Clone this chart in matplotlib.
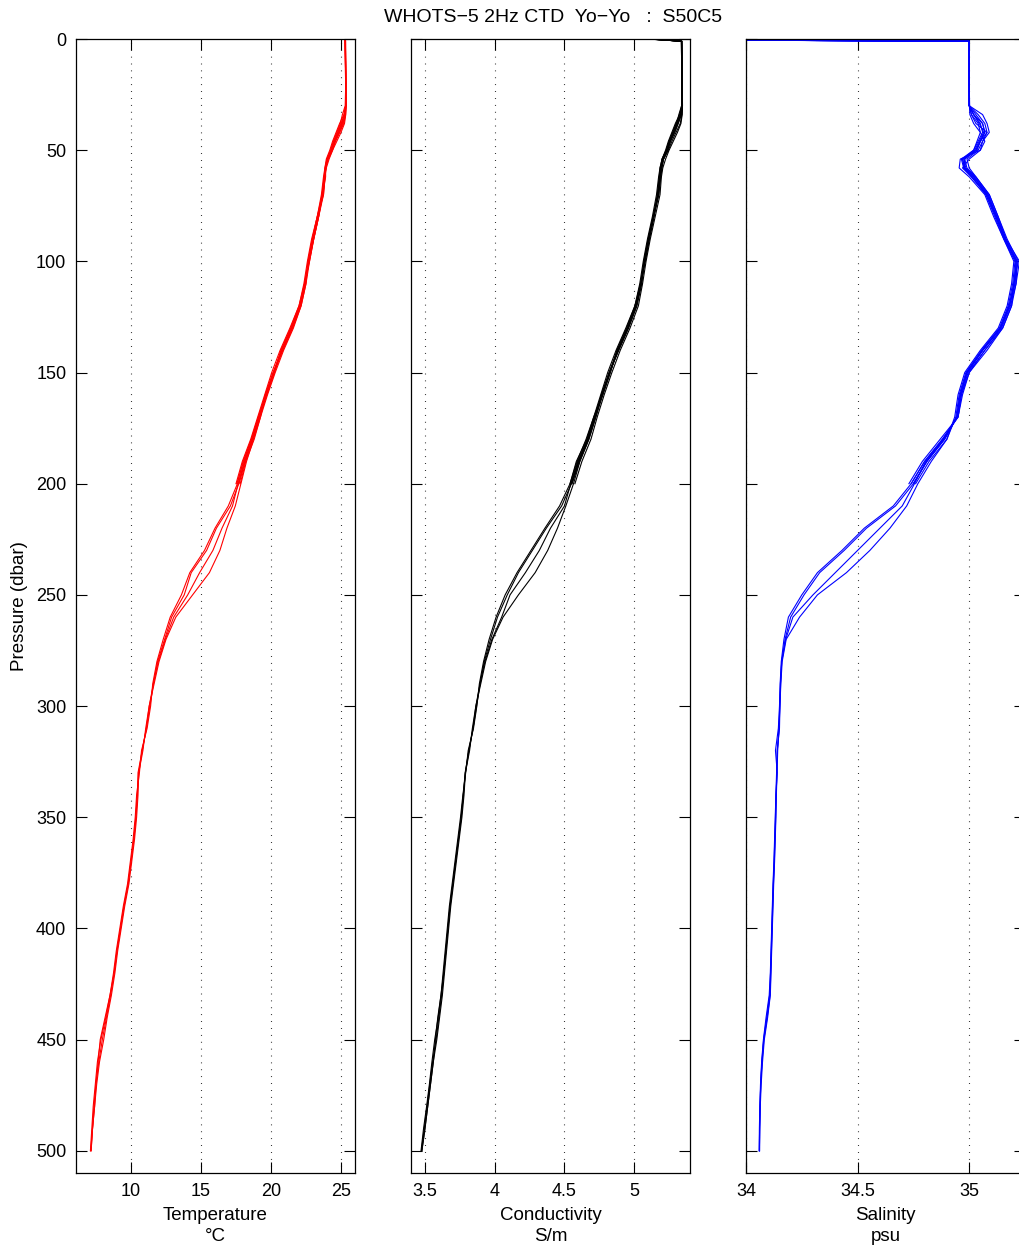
import matplotlib
matplotlib.use("Agg")
import matplotlib.pyplot as plt

plt.rcParams['font.family'] = ['Liberation Sans', 'DejaVu Sans']

# pressure grids (dbar): shallow yo-yo casts stop at 200, deep casts reach 500
P_SHALLOW = [0, 1, 10, 20, 30, 34, 38, 42, 46, 50, 54, 58, 62, 70, 80, 90, 100,
             110, 120, 130, 140, 150, 160, 170, 180, 190, 200]
P_DEEP = [0, 1, 10, 20, 30, 34, 38, 42, 46, 50, 54, 58, 62, 70, 80, 90, 100,
          110, 120, 130, 140, 150, 160, 170, 180, 190, 200,
          210, 220, 230, 240, 250, 260, 270, 280, 290, 300, 310, 320, 330, 340,
          350, 360, 370, 380, 390, 400, 410, 420, 430, 440, 450, 460, 470, 480,
          490, 500]

# temperature (deg C)
TEMP_DEEP = [
    [25.30, 25.30, 25.32, 25.34, 25.35, 25.30, 25.10, 24.85, 24.55, 24.35, 24.05, 23.90, 23.85, 23.70,
     23.35, 23.00, 22.70, 22.45, 22.10, 21.50, 20.80, 20.20, 19.65, 19.20, 18.70, 18.15, 17.70,
     17.10, 16.10, 15.40, 14.30, 13.80, 12.90, 12.40, 11.90, 11.60, 11.35, 11.10, 10.80, 10.55, 10.45,
     10.35, 10.20, 10.00, 9.80, 9.50, 9.25, 9.00, 8.80, 8.55, 8.25, 7.95, 7.70, 7.50, 7.35, 7.25, 7.12],
    [25.28, 25.29, 25.31, 25.33, 25.34, 25.25, 25.00, 24.75, 24.50, 24.30, 24.00, 23.95, 23.80, 23.65,
     23.40, 23.05, 22.75, 22.40, 22.00, 21.40, 20.70, 20.25, 19.70, 19.10, 18.60, 18.00, 17.60,
     16.95, 16.00, 15.25, 14.20, 13.60, 12.80, 12.30, 11.85, 11.55, 11.40, 11.15, 10.75, 10.60, 10.40,
     10.30, 10.15, 9.95, 9.75, 9.45, 9.20, 8.95, 8.75, 8.50, 8.20, 7.85, 7.60, 7.45, 7.30, 7.20, 7.10],
    [25.31, 25.31, 25.33, 25.35, 25.36, 25.32, 25.15, 24.90, 24.60, 24.40, 24.10, 23.90, 23.85, 23.75,
     23.30, 22.95, 22.65, 22.50, 22.15, 21.55, 20.85, 20.15, 19.60, 19.25, 18.75, 18.25, 17.85,
     17.45, 16.85, 16.35, 15.60, 14.40, 13.20, 12.50, 12.00, 11.65, 11.30, 11.05, 10.85, 10.55, 10.50,
     10.40, 10.25, 10.05, 9.85, 9.55, 9.30, 9.05, 8.85, 8.60, 8.30, 8.05, 7.75, 7.55, 7.40, 7.25, 7.15],
    [25.29, 25.30, 25.32, 25.34, 25.35, 25.28, 25.05, 24.80, 24.50, 24.30, 24.00, 23.85, 23.80, 23.70,
     23.40, 23.05, 22.70, 22.45, 22.05, 21.45, 20.75, 20.20, 19.60, 19.15, 18.65, 18.10, 17.65,
     17.25, 16.50, 15.85, 14.90, 14.05, 13.05, 12.45, 11.95, 11.60, 11.30, 11.10, 10.80, 10.50, 10.45,
     10.35, 10.20, 10.00, 9.80, 9.50, 9.25, 9.00, 8.80, 8.50, 8.15, 7.80, 7.65, 7.50, 7.40, 7.25, 7.15],
]
TEMP_SHALLOW = [
    [25.30, 25.31, 25.33, 25.34, 25.30, 25.10, 24.95, 24.70, 24.45, 24.25, 24.00, 23.90, 23.80, 23.65,
     23.30, 22.95, 22.65, 22.40, 22.05, 21.45, 20.75, 20.15, 19.60, 19.10, 18.60, 18.05, 17.55],
    [25.32, 25.33, 25.34, 25.35, 25.36, 25.34, 25.25, 25.00, 24.70, 24.40, 24.15, 23.95, 23.85, 23.75,
     23.40, 23.05, 22.75, 22.50, 22.15, 21.60, 20.90, 20.30, 19.75, 19.25, 18.80, 18.20, 17.80],
    [25.29, 25.30, 25.31, 25.33, 25.33, 25.20, 24.90, 24.65, 24.40, 24.20, 23.95, 23.85, 23.75, 23.60,
     23.30, 22.90, 22.60, 22.35, 22.00, 21.35, 20.65, 20.05, 19.55, 19.05, 18.55, 17.95, 17.50],
    [25.31, 25.32, 25.33, 25.35, 25.35, 25.32, 25.20, 24.90, 24.60, 24.35, 24.05, 23.90, 23.90, 23.70,
     23.35, 23.00, 22.70, 22.45, 22.10, 21.50, 20.80, 20.20, 19.70, 19.20, 18.70, 18.15, 17.70],
    [25.30, 25.30, 25.32, 25.34, 25.35, 25.25, 25.05, 24.80, 24.55, 24.35, 24.05, 23.88, 23.82, 23.68,
     23.38, 23.02, 22.72, 22.42, 22.08, 21.52, 20.82, 20.22, 19.68, 19.18, 18.68, 18.12, 17.68],
]

# conductivity (S/m)
COND_DEEP = [
    [5.11, 5.34, 5.342, 5.343, 5.344, 5.335, 5.31, 5.285, 5.255, 5.235, 5.205, 5.19, 5.185, 5.17,
     5.14, 5.105, 5.075, 5.05, 5.015, 4.955, 4.885, 4.825, 4.77, 4.72, 4.67, 4.60, 4.55,
     4.48, 4.37, 4.27, 4.17, 4.09, 4.02, 3.97, 3.925, 3.895, 3.87, 3.845, 3.815, 3.79, 3.775,
     3.76, 3.74, 3.72, 3.70, 3.68, 3.665, 3.65, 3.635, 3.62, 3.60, 3.58, 3.555, 3.535, 3.515, 3.495, 3.475],
    [5.12, 5.338, 5.34, 5.342, 5.343, 5.33, 5.30, 5.275, 5.25, 5.23, 5.20, 5.195, 5.18, 5.165,
     5.14, 5.11, 5.08, 5.045, 5.005, 4.945, 4.875, 4.83, 4.775, 4.71, 4.66, 4.585, 4.54,
     4.465, 4.36, 4.26, 4.16, 4.075, 4.01, 3.96, 3.92, 3.89, 3.872, 3.848, 3.81, 3.792, 3.772,
     3.755, 3.735, 3.715, 3.695, 3.675, 3.66, 3.645, 3.63, 3.615, 3.595, 3.57, 3.55, 3.532, 3.512, 3.49, 3.472],
    [5.10, 5.341, 5.343, 5.345, 5.346, 5.34, 5.315, 5.29, 5.26, 5.24, 5.21, 5.19, 5.185, 5.175,
     5.135, 5.10, 5.07, 5.055, 5.02, 4.96, 4.89, 4.82, 4.765, 4.725, 4.675, 4.61, 4.565,
     4.51, 4.45, 4.38, 4.29, 4.17, 4.06, 3.985, 3.935, 3.90, 3.865, 3.84, 3.82, 3.79, 3.78,
     3.765, 3.745, 3.725, 3.705, 3.685, 3.67, 3.655, 3.64, 3.625, 3.605, 3.585, 3.56, 3.54, 3.52, 3.50, 3.478],
    [5.13, 5.339, 5.341, 5.343, 5.344, 5.333, 5.305, 5.28, 5.25, 5.23, 5.20, 5.185, 5.18, 5.17,
     5.14, 5.105, 5.075, 5.05, 5.01, 4.95, 4.88, 4.825, 4.765, 4.715, 4.665, 4.595, 4.545,
     4.50, 4.40, 4.32, 4.22, 4.11, 4.05, 3.98, 3.93, 3.895, 3.865, 3.845, 3.815, 3.788, 3.775,
     3.76, 3.74, 3.72, 3.70, 3.68, 3.665, 3.65, 3.635, 3.615, 3.592, 3.575, 3.56, 3.54, 3.52, 3.50, 3.478],
]
COND_SHALLOW = [
    [5.11, 5.34, 5.342, 5.343, 5.34, 5.32, 5.305, 5.28, 5.255, 5.235, 5.21, 5.20, 5.19, 5.175,
     5.14, 5.105, 5.075, 5.05, 5.015, 4.955, 4.885, 4.825, 4.77, 4.72, 4.67, 4.605, 4.55],
    [5.12, 5.342, 5.344, 5.345, 5.346, 5.344, 5.335, 5.31, 5.28, 5.25, 5.225, 5.205, 5.195, 5.185,
     5.15, 5.115, 5.085, 5.06, 5.03, 4.97, 4.90, 4.84, 4.785, 4.735, 4.69, 4.625, 4.575],
    [5.10, 5.338, 5.34, 5.341, 5.34, 5.325, 5.295, 5.27, 5.245, 5.225, 5.20, 5.185, 5.175, 5.16,
     5.13, 5.095, 5.065, 5.04, 5.005, 4.94, 4.87, 4.81, 4.76, 4.71, 4.655, 4.59, 4.54],
    [5.13, 5.341, 5.342, 5.344, 5.345, 5.342, 5.33, 5.30, 5.27, 5.245, 5.21, 5.195, 5.19, 5.175,
     5.14, 5.105, 5.075, 5.05, 5.015, 4.955, 4.885, 4.825, 4.775, 4.725, 4.675, 4.61, 4.555],
    [5.115, 5.34, 5.341, 5.343, 5.344, 5.335, 5.315, 5.29, 5.26, 5.24, 5.21, 5.19, 5.185, 5.17,
     5.135, 5.10, 5.07, 5.045, 5.01, 4.955, 4.88, 4.82, 4.77, 4.715, 4.665, 4.60, 4.55],
]

# salinity (psu)
SAL_DEEP = [
    [32.9, 35.0, 35.0, 35.0, 35.0, 35.02, 35.05, 35.06, 35.04, 35.02, 34.97, 34.98, 35.02, 35.08,
     35.12, 35.16, 35.21, 35.20, 35.18, 35.14, 35.06, 34.99, 34.96, 34.945, 34.89, 34.81, 34.75,
     34.67, 34.54, 34.44, 34.33, 34.26, 34.20, 34.175, 34.16, 34.155, 34.152, 34.15, 34.14, 34.138, 34.135,
     34.133, 34.13, 34.127, 34.123, 34.12, 34.117, 34.114, 34.111, 34.108, 34.095, 34.08, 34.072, 34.066,
     34.063, 34.061, 34.06],
    [32.8, 35.0, 35.0, 35.0, 35.0, 35.03, 35.06, 35.07, 35.05, 35.03, 34.98, 34.99, 35.03, 35.09,
     35.13, 35.165, 35.215, 35.21, 35.185, 35.145, 35.07, 35.0, 34.965, 34.95, 34.88, 34.80, 34.74,
     34.66, 34.53, 34.43, 34.32, 34.25, 34.19, 34.17, 34.158, 34.153, 34.15, 34.145, 34.132, 34.14, 34.134,
     34.131, 34.128, 34.125, 34.121, 34.118, 34.115, 34.112, 34.109, 34.104, 34.09, 34.078, 34.07, 34.065,
     34.062, 34.06, 34.059],
    [33.0, 35.0, 35.0, 35.0, 35.002, 35.01, 35.04, 35.05, 35.035, 35.02, 34.965, 34.975, 35.015, 35.075,
     35.115, 35.155, 35.205, 35.195, 35.175, 35.135, 35.055, 34.985, 34.955, 34.94, 34.90, 34.83, 34.77,
     34.72, 34.645, 34.555, 34.45, 34.32, 34.24, 34.18, 34.162, 34.156, 34.152, 34.148, 34.142, 34.139, 34.136,
     34.134, 34.131, 34.128, 34.124, 34.121, 34.118, 34.115, 34.112, 34.109, 34.097, 34.082, 34.074, 34.068,
     34.064, 34.062, 34.061],
    [32.85, 35.0, 35.0, 35.0, 35.0, 35.02, 35.045, 35.065, 35.045, 35.025, 34.975, 34.985, 35.025, 35.085,
     35.125, 35.16, 35.21, 35.205, 35.18, 35.14, 35.06, 34.99, 34.96, 34.945, 34.885, 34.805, 34.755,
     34.70, 34.60, 34.50, 34.40, 34.30, 34.21, 34.178, 34.16, 34.154, 34.151, 34.148, 34.14, 34.137, 34.134,
     34.132, 34.129, 34.126, 34.122, 34.119, 34.116, 34.113, 34.11, 34.106, 34.093, 34.079, 34.071, 34.066,
     34.063, 34.061, 34.06],
]
SAL_SHALLOW = [
    [32.9, 35.0, 35.0, 35.0, 35.0, 35.06, 35.08, 35.09, 35.06, 35.04, 34.99, 35.0, 35.03, 35.09,
     35.13, 35.17, 35.22, 35.20, 35.19, 35.15, 35.08, 35.0, 34.97, 34.95, 34.87, 34.79, 34.73],
    [32.95, 35.0, 35.0, 35.0, 35.001, 35.003, 35.02, 35.05, 35.07, 35.05, 34.96, 34.955, 35.0, 35.07,
     35.11, 35.155, 35.20, 35.19, 35.17, 35.13, 35.05, 34.98, 34.95, 34.935, 34.90, 34.82, 34.76],
    [32.85, 35.0, 35.0, 35.0, 35.0, 35.04, 35.07, 35.08, 35.05, 35.03, 34.98, 34.975, 35.01, 35.08,
     35.125, 35.165, 35.225, 35.21, 35.19, 35.15, 35.07, 34.995, 34.965, 34.95, 34.88, 34.80, 34.74],
    [33.0, 35.0, 35.0, 35.0, 35.0, 35.01, 35.03, 35.08, 35.06, 35.05, 35.0, 34.97, 35.01, 35.075,
     35.12, 35.16, 35.215, 35.205, 35.18, 35.14, 35.06, 34.99, 34.96, 34.945, 34.885, 34.81, 34.75],
    [32.9, 35.0, 35.0, 35.0, 35.0, 35.02, 35.06, 35.07, 35.05, 35.035, 34.97, 34.98, 35.02, 35.085,
     35.12, 35.16, 35.21, 35.2, 35.18, 35.14, 35.06, 34.99, 34.96, 34.945, 34.89, 34.81, 34.75],
]

TITLE = "WHOTS\u22125 2Hz CTD  Yo\u2212Yo   :  S50C5"
PANELS = [
    (TEMP_DEEP, TEMP_SHALLOW, "#ff0000", "Temperature\n\u00b0C", (6.07, 26.0), [10, 15, 20, 25], ["10", "15", "20", "25"]),
    (COND_DEEP, COND_SHALLOW, "#000000", "Conductivity\nS/m", (3.4, 5.4), [3.5, 4, 4.5, 5], ["3.5", "4", "4.5", "5"]),
    (SAL_DEEP, SAL_SHALLOW, "#0000ff", "Salinity\npsu", (34.0, 35.25), [34, 34.5, 35], ["34", "34.5", "35"]),
]

W, H = 1020, 1247
fig = plt.figure(figsize=(W / 100, H / 100), dpi=100)
lefts = [76, 411, 746]
ax_w, ax_top, ax_bot = 279, 39, 1173

for i, (deep, shallow, col, xlab, xlim, ticks, labels) in enumerate(PANELS):
    ax = fig.add_axes([lefts[i] / W, 1 - ax_bot / H, ax_w / W, (ax_bot - ax_top) / H])
    for cast in shallow:
        ax.plot(cast, P_SHALLOW, color=col, lw=0.8)
    for cast in deep:
        ax.plot(cast, P_DEEP, color=col, lw=0.8)
    ax.set_xlim(*xlim)
    ax.set_ylim(510, 0)
    ax.set_xticks(ticks)
    ax.set_xticklabels(labels)
    ax.set_yticks(range(0, 501, 50))
    ax.tick_params(direction='in', top=True, right=True, length=8, width=0.8,
                   labelsize=13, pad=7)
    ax.grid(True, axis='x', color='black', linestyle=(0, (0.7, 5.5)), lw=0.8)
    for s in ax.spines.values():
        s.set_linewidth(0.9)
    ax.set_xlabel(xlab, fontsize=13.5, linespacing=1.35, labelpad=5)
    if i == 0:
        ax.set_ylabel("Pressure (dbar)", fontsize=13.5, labelpad=6)
    else:
        ax.tick_params(labelleft=False)

fig.text(553 / W, 1 - 17 / H, TITLE, ha='center', va='center', fontsize=14)

fig.savefig("out.png", dpi=100)
